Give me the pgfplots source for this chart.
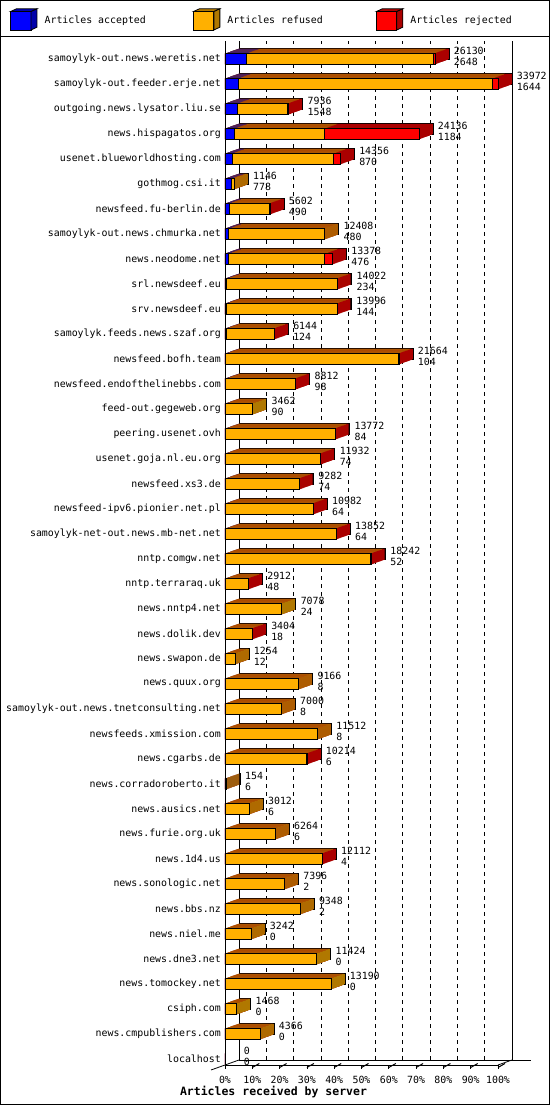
\documentclass[border=0pt]{standalone}
\usepackage{pgfplots}
\pgfplotsset{compat=1.18}
\usepackage{pgfplotstable}
\usepackage{fontspec}
\setmainfont{DejaVu Sans Mono}

\definecolor{cblue}{HTML}{0000FF}
\definecolor{dblue}{HTML}{0000AA}
\definecolor{corange}{HTML}{FFB000}
\definecolor{dorange}{HTML}{B07800}
\definecolor{cred}{HTML}{FF0000}
\definecolor{dred}{HTML}{AA0000}

% y: position (0 = bottom row), total articles, accepted, rejected (estimated); refused = total - accepted - rejected
\pgfplotstableread{
y name total acc rej
0 localhost 0 0 0
1 news.cmpublishers.com 4366 0 0
2 csiph.com 1468 0 0
3 news.tomockey.net 13190 0 0
4 news.dne3.net 11424 0 0
5 news.niel.me 3242 0 0
6 news.bbs.nz 9348 2 0
7 news.sonologic.net 7396 2 0
8 news.1d4.us 12112 4 30
9 news.furie.org.uk 6264 6 0
10 news.ausics.net 3012 6 0
11 news.corradoroberto.it 154 6 0
12 news.cgarbs.de 10214 6 30
13 newsfeeds.xmission.com 11512 8 0
14 samoylyk-out.news.tnetconsulting.net 7000 8 0
15 news.quux.org 9166 8 0
16 news.swapon.de 1254 12 0
17 news.dolik.dev 3404 18 30
18 news.nntp4.net 7078 24 0
19 nntp.terraraq.uk 2912 48 30
20 nntp.comgw.net 18242 52 200
21 samoylyk-net-out.news.mb-net.net 13852 64 40
22 newsfeed-ipv6.pionier.net.pl 10982 64 30
23 newsfeed.xs3.de 9282 74 30
24 usenet.goja.nl.eu.org 11932 74 30
25 peering.usenet.ovh 13772 84 60
26 feed-out.gegeweb.org 3462 90 0
27 newsfeed.endofthelinebbs.com 8812 98 30
28 newsfeed.bofh.team 21664 104 30
29 samoylyk.feeds.news.szaf.org 6144 124 30
30 srv.newsdeef.eu 13996 144 30
31 srl.newsdeef.eu 14022 234 30
32 news.neodome.net 13378 476 960
33 samoylyk-out.news.chmurka.net 12408 480 0
34 newsfeed.fu-berlin.de 5602 490 30
35 gothmog.csi.it 1146 778 0
36 usenet.blueworldhosting.com 14356 870 900
37 news.hispagatos.org 24136 1184 11780
38 outgoing.news.lysator.liu.se 7936 1548 150
39 samoylyk-out.feeder.erje.net 33972 1644 750
40 samoylyk-out.news.weretis.net 26130 2648 150
}\datatable

\begin{document}
\begin{tikzpicture}[x=1pt,y=1pt]
\path[use as bounding box] (0,0) rectangle (550,1105);
\draw[line width=1pt] (0.5,0.5) rectangle (549.5,1104.5);
\draw[line width=1pt] (0,1068) -- (550,1068);
% walls and floor
\draw[line width=0.8pt] (239,45) -- (239,1064);
\draw[line width=0.8pt] (512,45) -- (512,1064);
\draw[line width=0.8pt] (239,45) -- (531,45);
\draw[line width=0.8pt] (225,1058) -- (225,1064);
\draw[line width=0.8pt] (211,35) -- (239,45);
\draw[line width=0.8pt] (498,40) -- (512,45);
\foreach \k in {1,...,10} {
  \draw[line width=1pt] ({225+27.3*\k},37.5) -- ({225+27.3*\k+7},41.5);
}
\begin{axis}[
  at={(225pt,40pt)}, anchor=south west,
  scale only axis, width=273pt, height=1019pt,
  xmin=0, xmax=33972, ymin=-0.24, ymax=40.52,
  clip=false,
  scaled x ticks=false,
  axis x line*=bottom, axis y line*=left,
  axis line style={-, line width=0.8pt, black},
  xtick={0,3397.2,6794.4,10191.6,13588.8,16986,20383.2,23780.4,27177.6,30574.8,33972},
  xticklabels={0\%,10\%,20\%,30\%,40\%,50\%,60\%,70\%,80\%,90\%,100\%},
  xtick align=outside, major tick length=4pt,
  xtick style={black, line width=0.8pt},
  ytick={0,...,40},
  yticklabels from table={\datatable}{name},
  ytick style={draw=none},
  xmajorgrids,
  major grid style={black, line width=0.8pt, dash pattern=on 4pt off 4pt, xshift=14pt, yshift=5pt},
  tick label style={font=\fontsize{9.9}{11}\selectfont},
  yticklabel style={inner sep=0pt, anchor=east, xshift=-4pt},
  xticklabel style={inner sep=0pt, anchor=north, yshift=-7pt},
  legend columns=3,
  reverse legend,
  legend style={at={(-0.78718,1.03689)}, anchor=north west, draw=none, fill=none,
    inner sep=0pt, outer sep=0pt, font=\fontsize{9.9}{11}\selectfont,
    nodes={inner sep=0pt, anchor=west},
    /tikz/every odd column/.append style={column sep=0pt},
    /tikz/every even column/.append style={column sep=0pt}},
  depthbar/.style={xbar, bar shift=0pt, bar width=11pt, forget plot,
    x filter/.expression={x<=0 ? nan : x}},
]
% back faces with outline
\addplot[depthbar, fill=dred, draw=black, line width=0.8pt, xshift=14pt, yshift=5pt]
  table[x=total, y=y]{\datatable};
\addplot[depthbar, fill=dorange, draw=black, line width=0.8pt, xshift=14pt, yshift=5pt]
  table[x expr={\thisrow{rej}>0 ? \thisrow{total}-max(\thisrow{rej},190) : \thisrow{total}}, y=y]{\datatable};
\addplot[depthbar, fill=dblue, draw=black, line width=0.8pt, xshift=14pt, yshift=5pt]
  table[x=acc, y=y]{\datatable};
% depth sweep
\pgfplotsinvokeforeach{13,12,11,10,9,8,7,6,5,4,3,2,1}{
\addplot[depthbar, fill=dred, draw=none, xshift=#1pt, yshift=#1*0.35714pt]
  table[x=total, y=y]{\datatable};
\addplot[depthbar, fill=dorange, draw=none, xshift=#1pt, yshift=#1*0.35714pt]
  table[x expr={\thisrow{rej}>0 ? \thisrow{total}-max(\thisrow{rej},190) : \thisrow{total}}, y=y]{\datatable};
\addplot[depthbar, fill=dblue, draw=none, xshift=#1pt, yshift=#1*0.35714pt]
  table[x=acc, y=y]{\datatable};
}
% front faces
\addplot[xbar, bar shift=0pt, bar width=11pt, fill=cred, draw=black, line width=0.8pt,
  point meta=explicit symbolic,
  visualization depends on={\thisrow{acc} \as \vacc},
  nodes near coords={\pgfplotspointmeta\\\pgfmathprintnumber[int trunc, 1000 sep={}, assume math mode=true]{\vacc}},
  every node near coord/.append style={anchor=west, xshift=18.5pt, yshift=2.5pt, inner sep=0pt, align=left, font=\fontsize{9.9}{11}\selectfont, black},
  legend image code/.code={
    \draw[black, line width=0.8pt, fill=cred] (0pt,-9.2pt) rectangle (20.5pt,9.2pt);
    \draw[black, line width=0.8pt, fill=dred] (0pt,9.2pt) -- (6pt,12pt) -- (26.5pt,12pt) -- (20.5pt,9.2pt) -- cycle;
    \draw[black, line width=0.8pt, fill=dred] (20.5pt,-9.2pt) -- (26.5pt,-6.4pt) -- (26.5pt,12pt) -- (20.5pt,9.2pt) -- cycle;
    \path[draw=none, fill=none] (0pt,0pt) rectangle (34.1pt,0.1pt);}]
  table[x=total, y=y, meta=total]{\datatable};
\addlegendentry{\makebox[148.4pt][l]{Articles rejected}}
\addplot[xbar, bar shift=0pt, bar width=11pt, fill=corange, draw=black, line width=0.8pt,
  legend image code/.code={
    \draw[black, line width=0.8pt, fill=corange] (0pt,-9.2pt) rectangle (20.5pt,9.2pt);
    \draw[black, line width=0.8pt, fill=dorange] (0pt,9.2pt) -- (6pt,12pt) -- (26.5pt,12pt) -- (20.5pt,9.2pt) -- cycle;
    \draw[black, line width=0.8pt, fill=dorange] (20.5pt,-9.2pt) -- (26.5pt,-6.4pt) -- (26.5pt,12pt) -- (20.5pt,9.2pt) -- cycle;
    \path[draw=none, fill=none] (0pt,0pt) rectangle (34.1pt,0.1pt);}]
  table[x expr={\thisrow{total}-\thisrow{rej}}, y=y]{\datatable};
\addlegendentry{\makebox[148.4pt][l]{Articles refused}}
\addplot[xbar, bar shift=0pt, bar width=11pt, fill=cblue, draw=black, line width=0.8pt,
  legend image code/.code={
    \draw[black, line width=0.8pt, fill=cblue] (0pt,-9.2pt) rectangle (20.5pt,9.2pt);
    \draw[black, line width=0.8pt, fill=dblue] (0pt,9.2pt) -- (6pt,12pt) -- (26.5pt,12pt) -- (20.5pt,9.2pt) -- cycle;
    \draw[black, line width=0.8pt, fill=dblue] (20.5pt,-9.2pt) -- (26.5pt,-6.4pt) -- (26.5pt,12pt) -- (20.5pt,9.2pt) -- cycle;
    \path[draw=none, fill=none] (0pt,0pt) rectangle (34.1pt,0.1pt);}]
  table[x=acc, y=y]{\datatable};
\addlegendentry{\makebox[148.4pt][l]{Articles accepted}}
\end{axis}
\node[font=\bfseries\fontsize{11.5}{12}\selectfont] at (273.5,13) {Articles received by server};
\end{tikzpicture}
\end{document}
